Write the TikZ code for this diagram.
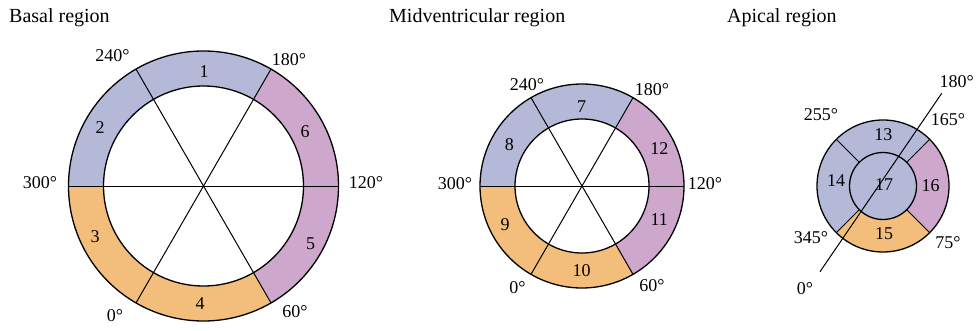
\documentclass[tikz,border=0pt]{standalone}
\usepackage{fontspec}
\setmainfont{Liberation Serif}
\definecolor{segblue}{RGB}{180,185,216}
\definecolor{segpurple}{RGB}{205,167,204}
\definecolor{segorange}{RGB}{243,189,124}
\newcommand{\ringseg}[5]{%
  \fill[#1] (#2:#4) arc[start angle=#2,end angle=#3,radius=#4] -- (#3:#5) arc[start angle=#3,end angle=#2,radius=#5] -- cycle;}
\begin{document}
\begin{tikzpicture}[x=1pt,y=1pt,
  lbl/.style={font=\fontsize{18}{18}\selectfont, inner sep=0pt},
  ttl/.style={font=\fontsize{20}{20}\selectfont, anchor=base west, inner sep=0pt},
  edge/.style={line width=1.3pt},
  spoke/.style={line width=1pt}]
\useasboundingbox (0,0) rectangle (976,330);
% titles
\node[ttl] (t1) at (9,307.5) {Basal region};
\node[ttl] (t2) at (389,307.5) {Midventricular region};
\node[ttl] (t3) at (727,307.5) {Apical region};
% ---------------- basal
\coordinate (bc) at (203.5,144);
\begin{scope}[shift={(bc)}]
\ringseg{segblue}{60}{120}{135pt}{100pt}
\ringseg{segblue}{120}{180}{135pt}{100pt}
\ringseg{segorange}{180}{240}{135pt}{100pt}
\ringseg{segorange}{240}{300}{135pt}{100pt}
\ringseg{segpurple}{300}{360}{135pt}{100pt}
\ringseg{segpurple}{0}{60}{135pt}{100pt}
\draw[edge] (0,0) circle[radius=135pt];
\draw[edge] (0,0) circle[radius=100pt];
\draw[spoke] (0:135pt) -- (180:135pt);
\draw[spoke] (60:135pt) -- (240:135pt);
\draw[spoke] (120:135pt) -- (300:135pt);
\end{scope}
\node[lbl] (b1) at (204,258.3) {1};
\node[lbl] (b2) at (100,202) {2};
\node[lbl] (b3) at (95,93.3) {3};
\node[lbl] (b4) at (200,26.7) {4};
\node[lbl] (b5) at (310.7,86.7) {5};
\node[lbl] (b6) at (305,198.3) {6};
\node[lbl] (ba240) at (112.5,274) {240°};
\node[lbl] (ba180) at (289,270) {180°};
\node[lbl] (ba300) at (40,147) {300°};
\node[lbl] (ba120) at (366,147) {120°};
\node[lbl] (ba0) at (115,14) {0°};
\node[lbl] (ba60) at (295,18) {60°};
% ---------------- midventricular
\coordinate (mc) at (582,144);
\begin{scope}[shift={(mc)}]
\ringseg{segblue}{60}{120}{102pt}{67pt}
\ringseg{segblue}{120}{180}{102pt}{67pt}
\ringseg{segorange}{180}{240}{102pt}{67pt}
\ringseg{segorange}{240}{300}{102pt}{67pt}
\ringseg{segpurple}{300}{360}{102pt}{67pt}
\ringseg{segpurple}{0}{60}{102pt}{67pt}
\draw[edge] (0,0) circle[radius=102pt];
\draw[edge] (0,0) circle[radius=67pt];
\draw[spoke] (0:102pt) -- (180:102pt);
\draw[spoke] (60:102pt) -- (240:102pt);
\draw[spoke] (120:102pt) -- (300:102pt);
\end{scope}
\node[lbl] (m7) at (581.7,223.3) {7};
\node[lbl] (m8) at (509.3,185) {8};
\node[lbl] (m9) at (505,105) {9};
\node[lbl] (m10) at (581.7,59.3) {10};
\node[lbl] (m11) at (659.3,110) {11};
\node[lbl] (m12) at (659.3,181.7) {12};
\node[lbl] (ma240) at (527,245) {240°};
\node[lbl] (ma180) at (652,240) {180°};
\node[lbl] (ma300) at (455,146) {300°};
\node[lbl] (ma120) at (705,146) {120°};
\node[lbl] (ma0) at (517.5,42) {0°};
\node[lbl] (ma60) at (652,44) {60°};
% ---------------- apical
\coordinate (ac) at (883,144);
\begin{scope}[shift={(ac)}]
\ringseg{segblue}{45}{135}{66pt}{33.5pt}
\ringseg{segblue}{135}{225}{66pt}{33.5pt}
\ringseg{segorange}{225}{315}{66pt}{33.5pt}
\ringseg{segpurple}{-45}{45}{66pt}{33.5pt}
\fill[segblue] (0,0) circle[radius=33.5pt];
\draw[edge] (0,0) circle[radius=66pt];
\draw[edge] (0,0) circle[radius=33.5pt];
\draw[spoke] (45:33.5pt) -- (45:66pt);
\draw[spoke] (135:33.5pt) -- (135:66pt);
\draw[spoke] (225:33.5pt) -- (225:66pt);
\draw[spoke] (315:33.5pt) -- (315:66pt);
\end{scope}
\coordinate (d0) at (820,58.3);
\coordinate (d180) at (941.7,236.7);
\draw[spoke] (d0) -- (d180);
\node[lbl] (a13) at (883.3,195) {13};
\node[lbl] (a14) at (836,149.3) {14};
\node[lbl] (a15) at (884,96.7) {15};
\node[lbl] (a16) at (930.7,144) {16};
\node[lbl] (a17) at (884,145) {17};
\node[lbl] (aa180) at (956.7,248.3) {180°};
\node[lbl] (aa165) at (948,210) {165°};
\node[lbl] (aa255) at (821,215) {255°};
\node[lbl] (aa345) at (811,92) {345°};
\node[lbl] (aa75) at (948,87.5) {75°};
\node[lbl] (aa0) at (805,41) {0°};
\end{tikzpicture}
\end{document}
